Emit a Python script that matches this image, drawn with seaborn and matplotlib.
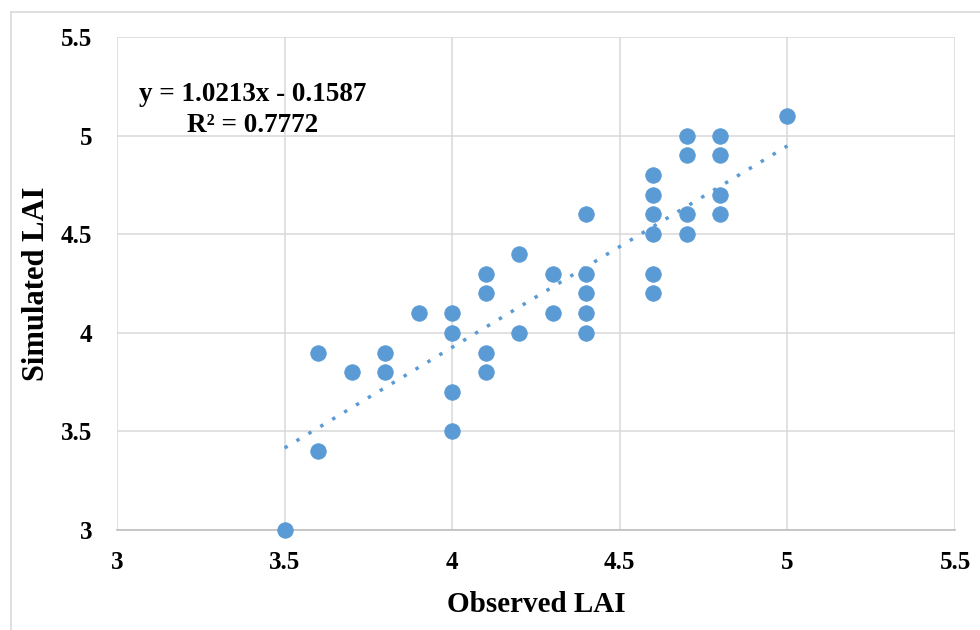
import numpy as np
import pandas as pd
import matplotlib
matplotlib.use("Agg")
import matplotlib.pyplot as plt
from matplotlib.lines import Line2D
import seaborn as sns

# Observed vs simulated leaf area index
observed = [3.5,
            3.6, 3.6,
            3.7,
            3.8, 3.8,
            3.9,
            4.0, 4.0, 4.0, 4.0,
            4.1, 4.1, 4.1, 4.1,
            4.2, 4.2,
            4.3, 4.3,
            4.4, 4.4, 4.4, 4.4, 4.4,
            4.6, 4.6, 4.6, 4.6, 4.6, 4.6,
            4.7, 4.7, 4.7, 4.7,
            4.8, 4.8, 4.8, 4.8,
            5.0]
simulated = [3.0,
             3.9, 3.4,
             3.8,
             3.9, 3.8,
             4.1,
             4.1, 4.0, 3.7, 3.5,
             4.3, 4.2, 3.9, 3.8,
             4.4, 4.0,
             4.3, 4.1,
             4.6, 4.3, 4.2, 4.1, 4.0,
             4.8, 4.7, 4.6, 4.5, 4.3, 4.2,
             5.0, 4.9, 4.6, 4.5,
             5.0, 4.9, 4.7, 4.6,
             5.1]

# Linear trend reported for the fit
slope = 1.0213
intercept = -0.1587
r_squared = 0.7772

ticks = [3, 3.5, 4, 4.5, 5, 5.5]
tick_labels = ["3", "3.5", "4", "4.5", "5", "5.5"]

df = pd.DataFrame({"Observed LAI": observed, "Simulated LAI": simulated})

sns.set_theme(style="white")
plt.rcParams["font.family"] = ["Liberation Serif", "DejaVu Serif"]
plt.rcParams["font.weight"] = "bold"
plt.rcParams["text.color"] = "black"
plt.rcParams["axes.labelcolor"] = "black"
plt.rcParams["xtick.color"] = "black"
plt.rcParams["ytick.color"] = "black"

blue = "#5B9BD5"
grid_c = "#D9D9D9"

fig = plt.figure(figsize=(9.8, 6.3), dpi=100)
ax = fig.add_axes([117 / 980, 1 - 530 / 630, (955 - 117) / 980, (530 - 37) / 630])

sns.scatterplot(data=df, x="Observed LAI", y="Simulated LAI", ax=ax,
                color=blue, s=125, edgecolor=blue, linewidth=0.6,
                zorder=3, clip_on=False)

# Dotted linear trendline over the observed range
xs = np.array([min(observed), max(observed)])
ax.plot(xs, slope * xs + intercept, color=blue, lw=2.5,
        linestyle=(0, (1, 3.0)), dash_capstyle="butt", zorder=4)

ax.set_xlim(3, 5.5)
ax.set_ylim(3, 5.5)
ax.set_xticks(ticks)
ax.set_xticklabels(tick_labels)
ax.set_yticks(ticks)
ax.set_yticklabels(tick_labels)

ax.grid(True, color=grid_c, lw=1.1, zorder=0)
ax.set_axisbelow(True)
for side in ["top", "right", "left"]:
    ax.spines[side].set_visible(False)
ax.spines["bottom"].set_color("#BFBFBF")
ax.spines["bottom"].set_linewidth(1.2)

ax.tick_params(axis="both", length=0, labelsize=18, labelcolor="black")
ax.tick_params(axis="x", pad=15)
ax.tick_params(axis="y", pad=18)
for lab in ax.get_xticklabels() + ax.get_yticklabels():
    lab.set_fontweight("bold")

ax.set_xlabel("Observed LAI", fontsize=21, fontweight="bold", va="center", color="black")
ax.set_ylabel("Simulated LAI", fontsize=22, fontweight="bold", va="center", color="black")
ax.xaxis.set_label_coords(0.5, (530 - 605) / 493)
ax.yaxis.set_label_coords((37 - 117) / 838, 0.5)

eq_text = f"y = {slope:.4f}x - {abs(intercept):.4f}\nR\u00b2 = {r_squared:.4f}"
ax.text(3.405, 5.27, eq_text, fontsize=19.5, fontweight="bold", color="black",
        ha="center", va="top", linespacing=1.3, zorder=5)

# Light chart-area border
x0 = 11 / 980
y0 = 1 - 12 / 630
fig.add_artist(Line2D([x0, 1], [y0, y0], transform=fig.transFigure,
                      color=grid_c, lw=1.2))
fig.add_artist(Line2D([x0, x0], [0, y0], transform=fig.transFigure,
                      color=grid_c, lw=1.2))

fig.savefig("out.png", dpi=100, facecolor="white")
